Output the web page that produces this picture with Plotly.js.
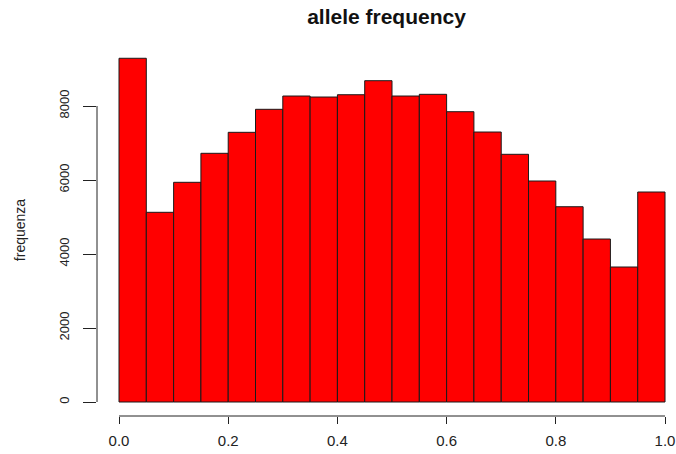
<!DOCTYPE html>
<html>
<head>
<meta charset="utf-8">
<script src="https://cdn.plot.ly/plotly-3.0.1.min.js"></script>
<style>html,body{margin:0;padding:0;background:#fff;}#chart{width:676px;height:454px;}</style>
</head>
<body>
<div id="chart"></div>
<script>
// Histogram bin edges and counts
const breaks = [0.00,0.05,0.10,0.15,0.20,0.25,0.30,0.35,0.40,0.45,0.50,0.55,0.60,0.65,0.70,0.75,0.80,0.85,0.90,0.95,1.00];
const counts = [9290,5127,5938,6722,7289,7911,8270,8243,8305,8684,8270,8316,7846,7297,6695,5973,5278,4405,3649,5676];
const xTickVals = [0,0.2,0.4,0.6,0.8,1.0];
const xTickText = ["0.0","0.2","0.4","0.6","0.8","1.0"];
const yTickVals = [0,2000,4000,6000,8000];
const yTickText = ["0","2000","4000","6000","8000"];

const mids = counts.map((c,i)=> (breaks[i]+breaks[i+1])/2);
const widths = counts.map((c,i)=> breaks[i+1]-breaks[i]);

const trace = {
  type:'bar', x: mids, y: counts, width: widths,
  marker:{color:'#ff0000', line:{color:'#1a1a1a', width:1}},
  hoverinfo:'skip'
};

const font = 'Liberation Sans, Arial, sans-serif';
const layout = {
  width:676, height:454,
  margin:{l:97, r:0, t:44, b:38, pad:0},
  paper_bgcolor:'#fff', plot_bgcolor:'#fff',
  showlegend:false,
  title:{text:'<b>allele frequency</b>', font:{family:font, size:21, color:'#111'}, x:0.5, xref:'paper', y:0.963, yref:'container', yanchor:'middle'},
  xaxis:{range:[-0.0403,1.0201], showgrid:false, zeroline:false, showline:false,
    tickmode:'array', tickvals:xTickVals, ticktext:xTickText,
    ticks:'outside', ticklen:7, tickwidth:1, tickcolor:'#222',
    tickfont:{family:font, size:15, color:'#222'}, ticklabelstandoff:4},
  yaxis:{range:[-378,9676], showgrid:false, zeroline:false, showline:false,
    tickmode:'array', tickvals:yTickVals, ticktext:yTickText,
    ticks:'outside', ticklen:13, tickwidth:1, tickcolor:'#222', tickangle:-90,
    tickfont:{family:font, size:13, color:'#222'}, ticklabelstandoff:9,
    title:{text:'frequenza', font:{family:font, size:14, color:'#222'}, standoff:27}},
  shapes:[
    {type:'line', xref:'x', yref:'paper', x0:xTickVals[0], x1:xTickVals[xTickVals.length-1], y0:0, y1:0, line:{color:'#222', width:1}},
    {type:'line', xref:'paper', yref:'y', x0:0, x1:0, y0:yTickVals[0], y1:yTickVals[yTickVals.length-1], line:{color:'#222', width:1}}
  ]
};
Plotly.newPlot('chart', [trace], layout, {staticPlot:true, displayModeBar:false});
</script>
</body>
</html>
